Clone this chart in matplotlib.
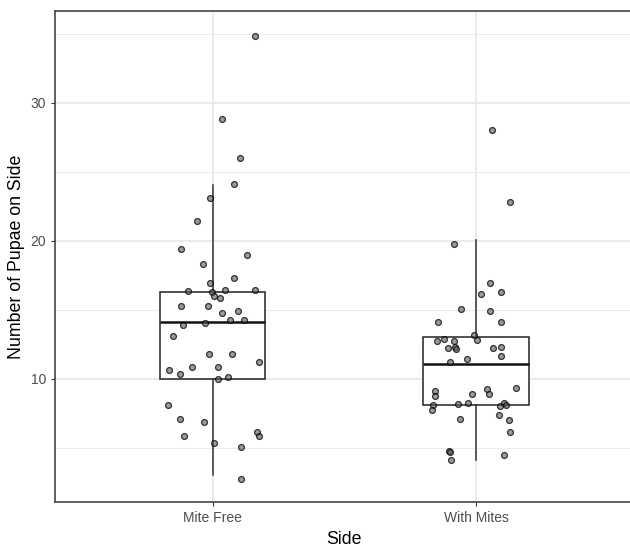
import matplotlib.pyplot as plt

sides = ["Mite Free", "With Mites"]

# jittered points: offset from group centre, value
free_dx = [0.162, 0.033, 0.102, 0.079, -0.010, -0.060, -0.121, 0.129, -0.038, 0.079,
           -0.010, -0.096, -0.005, 0.047, 0.162, 0.004, 0.028, -0.121, -0.019, 0.033,
           0.096, 0.065, 0.117, -0.028, -0.115, -0.152, -0.014, 0.073, 0.176, -0.080,
           -0.166, 0.019, -0.125, 0.019, 0.056, -0.171, -0.124, -0.033, -0.111, 0.166,
           0.176, 0.005, 0.106, 0.106]
free_y = [34.83, 28.84, 26.01, 24.08, 23.12, 21.45, 19.40, 18.99, 18.28, 17.32,
          16.96, 16.36, 16.28, 16.45, 16.45, 16.01, 15.87, 15.29, 15.29, 14.78,
          14.88, 14.28, 14.28, 14.03, 13.86, 13.07, 11.76, 11.76, 11.23, 10.82,
          10.63, 10.82, 10.36, 10.00, 10.14, 8.07, 7.10, 6.83, 5.85, 6.14,
          5.85, 5.34, 5.05, 2.70]

mites_dx = [0.060, 0.129, -0.084, 0.054, 0.018, 0.096, -0.057, 0.054, -0.143, 0.096,
            -0.009, -0.148, -0.122, -0.085, 0.003, -0.106, -0.079, -0.075, 0.065, 0.096,
            0.096, -0.033, -0.098, 0.152, 0.041, 0.049, -0.157, -0.157, -0.015, -0.162,
            -0.167, -0.070, -0.029, 0.091, 0.108, 0.114, 0.087, -0.061, 0.124, 0.129,
            -0.104, -0.100, -0.094, 0.106]
mites_y = [28.04, 22.78, 19.78, 16.96, 16.16, 16.25, 15.02, 14.93, 14.08, 14.08,
           13.17, 12.75, 12.87, 12.75, 12.83, 12.20, 12.27, 12.12, 12.20, 12.29,
           11.67, 11.43, 11.23, 9.30, 9.25, 8.93, 9.13, 8.77, 8.93, 8.12,
           7.70, 8.19, 8.26, 7.99, 8.24, 8.07, 7.37, 7.10, 6.98, 6.11,
           4.78, 4.69, 4.08, 4.44]

# box stats
whislo = [3.04, 4.08]
q1 = [10.0, 8.07]
med = [14.1, 11.09]
q3 = [16.3, 12.99]
whishi = [24.06, 20.07]

plt.rcParams["font.family"] = ["Liberation Sans", "DejaVu Sans"]

fig = plt.figure(figsize=(6.3, 5.47), dpi=100)
ax = fig.add_axes([55 / 630, 1 - 502 / 547, 578.8 / 630, 491 / 547])

stats = []
for i in range(2):
    stats.append({"whislo": whislo[i], "q1": q1[i], "med": med[i], "q3": q3[i], "whishi": whishi[i]})
ax.bxp(stats, positions=[1, 2], widths=0.4, showcaps=False, showfliers=False,
       patch_artist=True,
       boxprops=dict(facecolor="white", edgecolor="#222222", linewidth=1.1),
       whiskerprops=dict(color="#333333", linewidth=1.1),
       medianprops=dict(color="#111111", linewidth=1.8), zorder=2)

for c, dx, ys in [(1, free_dx, free_y), (2, mites_dx, mites_y)]:
    xs = [c + d for d in dx]
    ax.scatter(xs, ys, s=18, facecolor=(0.35, 0.35, 0.35, 0.6),
               edgecolor=(0, 0, 0, 0.75), linewidth=0.9, zorder=3)

ax.set_xlim(0.4, 2.6)
ax.set_ylim(1.07, 36.64)
ax.set_xticks([1, 2])
ax.set_xticklabels(sides)
ax.set_yticks([10, 20, 30])
ax.set_yticks([5, 15, 25, 35], minor=True)
ax.grid(True, which="major", color="#E6E6E6", linewidth=1.2, zorder=0)
ax.grid(True, which="minor", axis="y", color="#EBEBEB", linewidth=0.7, zorder=0)
ax.set_axisbelow(True)
ax.tick_params(which="major", colors="#333333", labelcolor="#4D4D4D", labelsize=10, length=3)
ax.tick_params(which="minor", length=0)
for s in ax.spines.values():
    s.set_color("#444444")
    s.set_linewidth(1.2)

ax.set_xlabel("Side", fontsize=12.8, color="black", labelpad=4)
ax.set_ylabel("Number of Pupae on Side", fontsize=12.8, color="black", labelpad=4)

fig.savefig("out.png", dpi=100)
